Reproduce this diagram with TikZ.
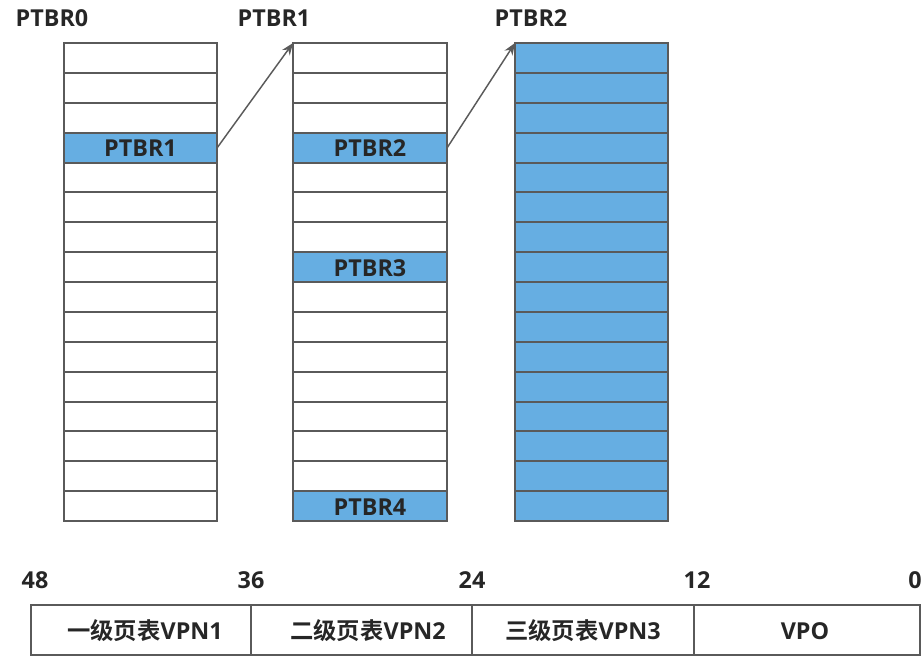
\documentclass[tikz,border=0pt]{standalone}
\usepackage{fontspec}
\setmainfont{Open Sans}[BoldFont={Open Sans Bold}]
\newfontfamily\cjk{Noto Sans CJK SC}[BoldFont={Noto Sans CJK SC Bold}]
\usetikzlibrary{arrows.meta}
\definecolor{cellblue}{HTML}{66AEE2}
\definecolor{linegray}{HTML}{5A5A5A}
\definecolor{txt}{HTML}{262626}
\tikzset{
  cell/.style={draw=linegray, line width=1.5pt, fill=white},
  bluecell/.style={draw=linegray, line width=1.5pt, fill=cellblue},
  lbl/.style={text=txt, font=\fontsize{17.5}{20}\selectfont\bfseries, inner sep=0pt},
  ptr/.style={draw=linegray, line width=1.1pt, -{Stealth[length=9pt,width=7pt]}},
}
\begin{document}
\begin{tikzpicture}[x=0.75pt,y=-0.75pt]
\useasboundingbox (0,0) rectangle (924,660);
\def\rh{29.875}
% column 1
\foreach \i in {0,...,15}{
  \pgfmathsetmacro\ya{43+\i*\rh}
  \pgfmathsetmacro\yb{43+(\i+1)*\rh}
  \ifnum\i=3 \draw[bluecell] (64,\ya) rectangle (217,\yb);
  \else \draw[cell] (64,\ya) rectangle (217,\yb); \fi
}
% column 2
\foreach \i in {0,...,15}{
  \pgfmathsetmacro\ya{43+\i*\rh}
  \pgfmathsetmacro\yb{43+(\i+1)*\rh}
  \draw[cell] (293,\ya) rectangle (447,\yb);
}
\foreach \i in {3,7,15}{
  \pgfmathsetmacro\ya{43+\i*\rh}
  \pgfmathsetmacro\yb{43+(\i+1)*\rh}
  \draw[bluecell] (293,\ya) rectangle (447,\yb);
}
% column 3
\foreach \i in {0,...,15}{
  \pgfmathsetmacro\ya{43+\i*\rh}
  \pgfmathsetmacro\yb{43+(\i+1)*\rh}
  \draw[bluecell] (515,\ya) rectangle (668,\yb);
}
% cell labels and anchors
\node[lbl] (e1) at (140.5,148) {PTBR1};
\node[lbl] (e2) at (370,148) {PTBR2};
\node[lbl] (e3) at (370,268) {PTBR3};
\node[lbl] (e4) at (370,507) {PTBR4};
\coordinate (s1) at (217,148);
\coordinate (s2) at (447,148);
\coordinate (t1) at (293,43);
\coordinate (t2) at (515,43);
% titles
\node[lbl] (h0) at (52,18) {PTBR0};
\node[lbl] (h1) at (274,18) {PTBR1};
\node[lbl] (h2) at (531,18) {PTBR2};
% arrows
\draw[ptr] (s1) -- (t1);
\draw[ptr] (s2) -- (t2);
% address bar
\draw[cell] (31,605) rectangle (920,655);
\draw[linegray, line width=1.5pt] (251,605) -- (251,655);
\draw[linegray, line width=1.5pt] (472,605) -- (472,655);
\draw[linegray, line width=1.5pt] (694,605) -- (694,655);
\node[lbl] (f1) at (145,631) {{\cjk\bfseries 一级页表}VPN1};
\node[lbl] (f2) at (368,631) {{\cjk\bfseries 二级页表}VPN2};
\node[lbl] (f3) at (583,631) {{\cjk\bfseries 三级页表}VPN3};
\node[lbl] (f4) at (805,631) {VPO};
\node[lbl] (n48) at (35,580) {48};
\node[lbl] (n36) at (251,580) {36};
\node[lbl] (n24) at (472,580) {24};
\node[lbl] (n12) at (697,580) {12};
\node[lbl] (n0) at (915,580) {0};
\end{tikzpicture}
\end{document}
